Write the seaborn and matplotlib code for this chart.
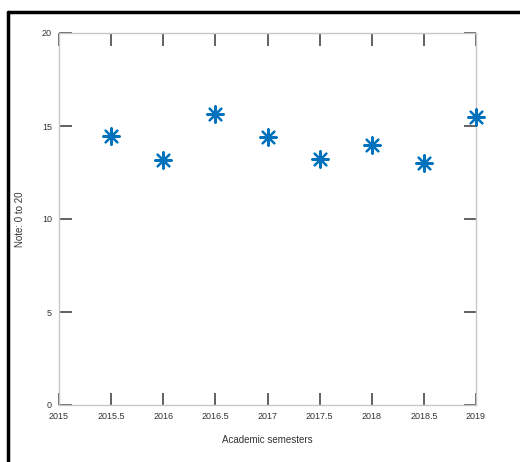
import matplotlib
matplotlib.use("Agg")
import matplotlib.pyplot as plt
import seaborn as sns
import pandas as pd
from matplotlib.lines import Line2D

# data
semesters = [2015.5, 2016, 2016.5, 2017, 2017.5, 2018, 2018.5, 2019]
notes = [14.45, 13.15, 15.65, 14.4, 13.2, 14.0, 13.0, 15.5]
x_ticks = [2015, 2015.5, 2016, 2016.5, 2017, 2017.5, 2018, 2018.5, 2019]
x_tick_labels = ["2015", "2015.5", "2016", "2016.5", "2017", "2017.5", "2018", "2018.5", "2019"]
y_ticks = [0, 5, 10, 15, 20]

df = pd.DataFrame({"semester": semesters, "note": notes})

sns.set_style("white")
plt.rcParams["font.family"] = ["Liberation Sans", "DejaVu Sans"]

fig = plt.figure(figsize=(5.2, 4.62), dpi=100)
ax = fig.add_axes([59 / 520, 1 - 405 / 462, (476 - 59) / 520, (405 - 33) / 462])

sns.scatterplot(data=df, x="semester", y="note", ax=ax, marker=(8, 2, 0),
                s=140, color="#0072BD", edgecolor="#0072BD", linewidth=1.6,
                clip_on=False, zorder=5)

ax.set_xlim(2015, 2019)
ax.set_ylim(0, 20)
ax.set_xticks(x_ticks)
ax.set_xticklabels(x_tick_labels)
ax.set_yticks(y_ticks)
ax.tick_params(direction="in", length=9, width=1.3, color="#555555",
               labelsize=6.5, labelcolor="#333333",
               top=True, right=True, bottom=True, left=True, pad=5)
for sp in ax.spines.values():
    sp.set_color("#c8c8c8")
    sp.set_linewidth(1.0)
    sp.set_visible(True)

ax.set_xlabel("Academic semesters", fontsize=7, color="#333333", labelpad=10)
ax.set_ylabel("Note: 0 to 20", fontsize=7, color="#333333", labelpad=12)

# black frame at top and left edges of the screenshot
fig.add_artist(Line2D([8 / 520, 8 / 520], [0, 1 - 12 / 462], transform=fig.transFigure,
                      color="black", linewidth=2.5))
fig.add_artist(Line2D([8 / 520, 1], [1 - 12 / 462, 1 - 12 / 462], transform=fig.transFigure,
                      color="black", linewidth=2.5))

fig.savefig("out.png", dpi=100)
